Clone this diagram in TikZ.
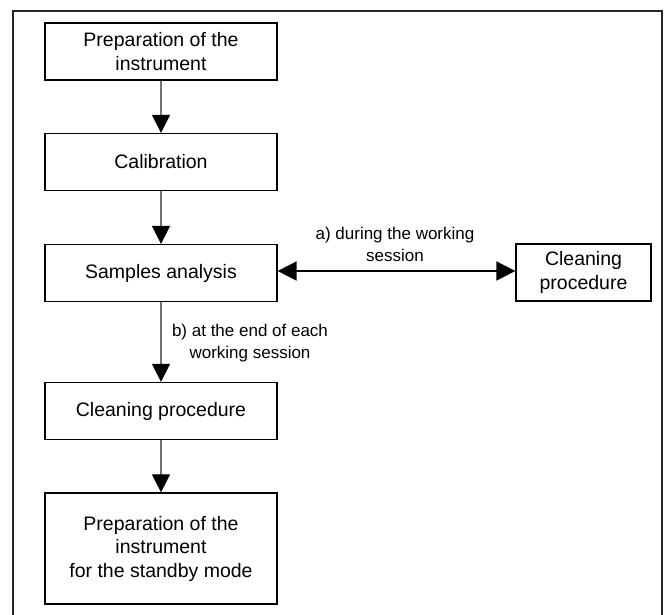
\documentclass[tikz,border=0pt]{standalone}
\usepackage{fontspec}
\setmainfont{Liberation Sans}
\usetikzlibrary{arrows.meta}
\begin{document}
\begin{tikzpicture}[x=1pt,y=-1pt,
  box/.style={draw=black,line width=1.2pt,minimum width=232pt,minimum height=57pt,align=center,inner sep=2pt,
    font=\fontsize{19.5}{23.5}\selectfont,text=black},
  lbl/.style={align=center,font=\fontsize{17}{22}\selectfont,text=black,inner sep=0pt},
  flow/.style={draw=black!55,line width=1.1pt,-{Triangle[length=18pt,width=18pt,color=black]}},
  both/.style={draw=black,line width=1.6pt,{Triangle[length=19pt,width=19pt,color=black]}-{Triangle[length=19pt,width=19pt,color=black]}},
  frame/.style={draw=black!85,line width=2pt}]
\useasboundingbox (0,0) rectangle (665,615);
\draw[frame] (13,616) -- (13,11) -- (662,11) -- (662,616);
\node[box] (prep) at (161,51.5) {Preparation of the\\instrument};
\node[box] (cal) at (161,162) {Calibration};
\node[box] (samp) at (161,273) {Samples analysis};
\node[box] (clean) at (161,411) {Cleaning procedure};
\node[box,minimum height=111pt] (stand) at (161,548.5) {Preparation of the\\instrument\\for the standby mode};
\node[box,minimum width=135pt] (rclean) at (583.5,272.5) {Cleaning\\procedure};
\draw[flow] (prep) -- (cal);
\draw[flow] (cal) -- (samp);
\draw[flow] (samp) -- (clean);
\draw[flow] (clean) -- (stand);
\draw[both] (samp.east |- 0,271) -- (rclean.west |- 0,271);
\node[lbl] (la) at (395,244) {a) during the working\\session};
\node[lbl] (lb) at (250,343) {b) at the end of each\\working session};
\end{tikzpicture}
\end{document}
